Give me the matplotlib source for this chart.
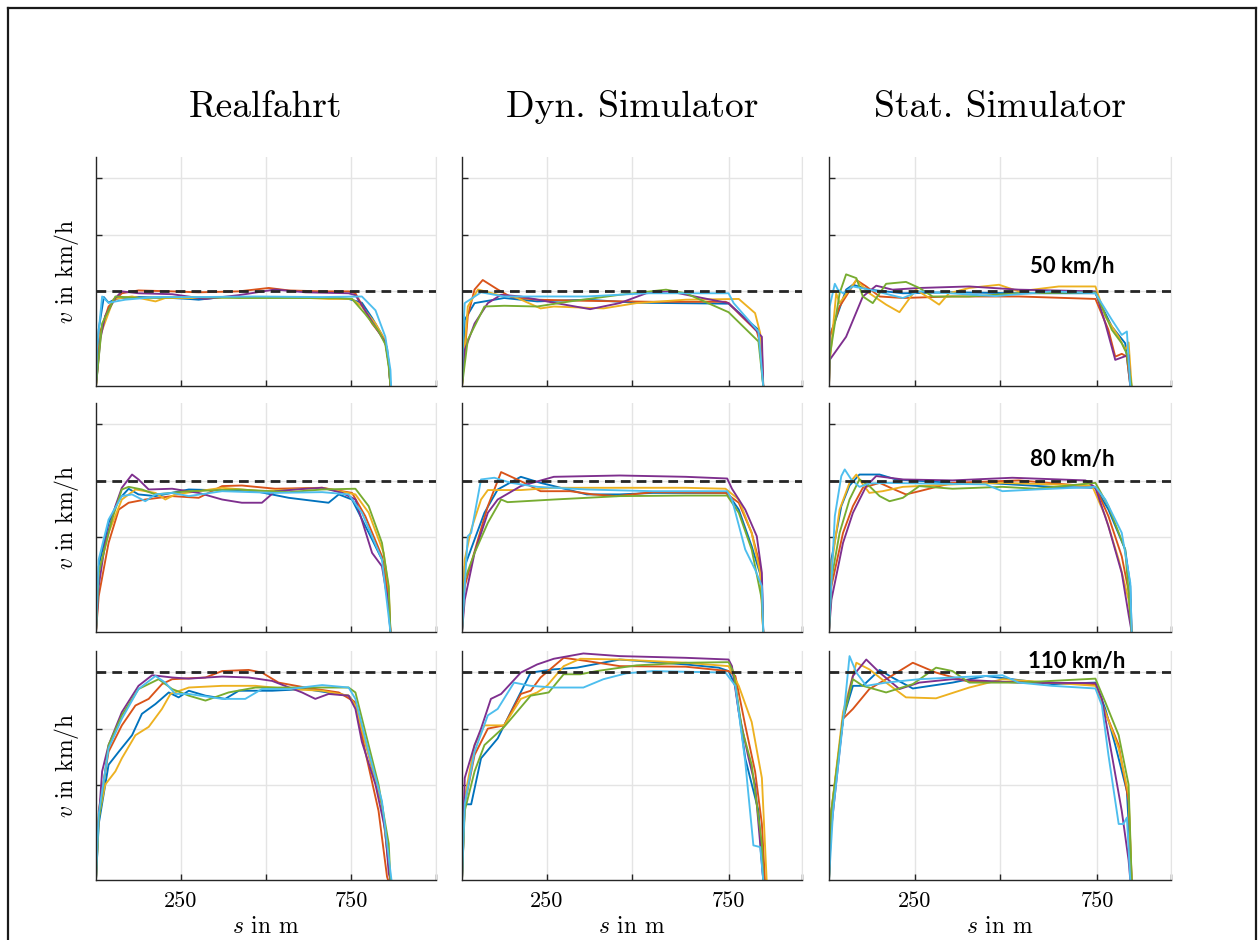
import matplotlib.pyplot as plt
from matplotlib.lines import Line2D

plt.rcParams['mathtext.fontset'] = 'cm'
plt.rcParams['axes.unicode_minus'] = False

# MATLAB default line colours, order used in every panel below
COLORS = ['#0072BD', '#D95319', '#EDB120', '#7E2F8E', '#77AC30', '#4DBEEE']

col_titles = ['Realfahrt', 'Dyn. Simulator', 'Stat. Simulator']
target_speeds = [50, 80, 110]
speed_labels = ['50 km/h', '80 km/h', '110 km/h']

# (s in m, v in km/h) points per run: blue, orange, yellow, purple, green, cyan
real_50 = [
    [(0, 0), (8, 30), (23, 47), (37, 44), (57, 46), (76, 46.5), (125, 47), (224, 46.5), (273, 46), (302, 45.6),
     (371, 47), (469, 47), (567, 47), (665, 46.5), (743, 46), (782, 44), (812, 36), (841, 27), (856, 20), (861, 12), (866, 0)],
    [(0, 0), (13, 29), (37, 42), (76, 49), (125, 50.5), (224, 50), (302, 49.5), (420, 50), (508, 51.8), (567, 50.5),
     (665, 50), (743, 50), (763, 49), (812, 33), (851, 24), (861, 12), (866, 0)],
    [(0, 0), (13, 27), (52, 46), (106, 47.3), (175, 44.7), (204, 46.5), (302, 46.5), (420, 47), (567, 47), (684, 46),
     (753, 46), (782, 42), (822, 33), (851, 24), (861, 12), (866, 0)],
    [(0, 0), (13, 25), (27, 37), (57, 46.5), (76, 50), (125, 49), (224, 48.5), (322, 46), (420, 48), (527, 51),
     (616, 49.5), (743, 49), (763, 48), (812, 34), (851, 23), (861, 12), (866, 0)],
    [(0, 0), (18, 33), (57, 47.3), (125, 46.5), (273, 47), (420, 46.5), (567, 46.5), (714, 46.5), (753, 46),
     (792, 38), (831, 29), (851, 22), (861, 10), (866, 0)],
    [(0, 0), (3, 20), (18, 47.3), (37, 44), (86, 45.6), (175, 47), (302, 47), (469, 47.3), (665, 47), (782, 47.3),
     (822, 40), (851, 26), (866, 8.5), (868, 0)],
]
dyn_50 = [
    [(0, 0), (8, 35), (37, 43.8), (124, 46.5), (221, 44.7), (367, 45.6), (513, 44), (784, 43.5), (872, 29.7), (886, 0)],
    [(0, 0), (17, 37), (37, 51), (61, 56), (105, 51), (144, 47), (221, 45.6), (367, 45), (561, 44.5), (775, 44.5),
     (784, 43.8), (823, 36.7), (867, 29), (882, 19), (886, 0)],
    [(0, 0), (17, 42), (47, 51), (105, 48.2), (153, 47.3), (231, 41), (270, 42), (416, 41), (513, 43.8), (658, 45.6),
     (814, 46), (862, 38.5), (877, 28), (886, 0)],
    [(0, 0), (8, 19), (37, 33), (76, 43.8), (115, 48.2), (173, 47.3), (270, 44), (377, 40.6), (464, 43.8), (542, 49),
     (610, 50), (707, 46.5), (784, 43.8), (852, 32), (882, 26), (886, 0)],
    [(0, 0), (17, 24.4), (66, 42), (124, 42.4), (221, 42), (318, 44.7), (464, 48.2), (600, 50.9), (658, 49),
     (784, 39), (872, 23.5), (886, 0)],
    [(0, 0), (4, 30), (8, 43.8), (56, 49.5), (124, 47.3), (367, 47.3), (542, 49), (784, 49), (799, 43.8),
     (872, 28.8), (886, 0)],
]
stat_50 = [
    [(0, 0), (2, 26), (50, 50.9), (70, 53.5), (118, 50.9), (216, 49), (361, 49.5), (555, 49), (779, 49),
     (827, 31.4), (866, 22.6), (881, 0)],
    [(0, 0), (2, 26), (31, 42), (80, 56), (109, 52.6), (148, 47.3), (216, 46.5), (361, 47.3), (555, 47.3), (779, 46),
     (817, 29.7), (837, 15.5), (856, 17), (871, 15.5), (881, 0)],
    [(0, 0), (2, 12), (21, 49), (31, 43.8), (80, 56), (118, 49), (167, 43), (206, 39), (254, 50.9), (293, 46.5),
     (322, 43), (351, 49), (410, 51.8), (497, 53.5), (555, 50), (672, 52.6), (779, 52.6), (808, 36.7), (847, 26),
     (866, 19), (876, 23), (885, 0)],
    [(0, 0), (2, 13.8), (50, 26), (99, 47.3), (138, 53), (186, 50.9), (264, 51.8), (410, 52.6), (555, 50.9), (779, 50),
     (808, 33), (837, 13.8), (876, 16.4), (881, 0)],
    [(0, 0), (2, 15.5), (31, 49), (50, 59), (80, 57), (99, 47.3), (128, 43.8), (167, 54), (225, 55), (264, 51.8),
     (303, 47.3), (410, 47.3), (555, 49), (779, 49.5), (827, 29.7), (856, 22.6), (871, 17), (885, 0)],
    [(0, 0), (2, 42), (17, 54), (26, 50.9), (41, 49), (70, 52.6), (118, 50.9), (216, 46.5), (264, 50), (487, 47.5),
     (652, 50), (779, 49), (827, 35), (856, 27), (871, 28.8), (881, 0)],
]

real_80 = [
    [(0, 0), (8, 34.7), (37, 57.7), (67, 70), (96, 75.7), (125, 72.7), (175, 71.8), (273, 75.3), (469, 74.4),
     (567, 70.9), (684, 68.3), (714, 72.7), (753, 70), (812, 48.9), (851, 34.7), (866, 0)],
    [(0, 0), (8, 19), (37, 47.1), (67, 64.7), (96, 68.3), (145, 70), (224, 71.8), (302, 70.9), (371, 77.1),
     (429, 77.4), (527, 75.7), (665, 76.2), (753, 73.5), (792, 61.2), (841, 40), (861, 19), (866, 0)],
    [(0, 0), (8, 31.2), (37, 52.4), (76, 70), (116, 75.3), (175, 73.5), (204, 70), (233, 72.7), (371, 76.2),
     (488, 74.4), (665, 76.2), (763, 72.7), (802, 63), (846, 41.8), (861, 22.4), (866, 0)],
    [(0, 0), (8, 24.2), (27, 47.1), (57, 66.5), (76, 76.2), (106, 83.2), (125, 80.6), (155, 75.3), (224, 75.7),
     (302, 73.5), (371, 70), (429, 68.3), (488, 68.3), (527, 74.4), (616, 75.7), (665, 76.2), (724, 73.5),
     (763, 70), (812, 41.8), (841, 34.7), (861, 13.6), (866, 0)],
    [(0, 0), (8, 31.2), (47, 59.4), (76, 75.3), (96, 76.7), (135, 75.3), (175, 72.7), (273, 74.4), (420, 75.3),
     (567, 73.9), (665, 75.3), (763, 75.7), (802, 66.5), (841, 47.1), (861, 24.2), (866, 0)],
    [(0, 0), (8, 38.3), (37, 59.4), (76, 71.8), (106, 72.7), (145, 69.1), (175, 72.7), (224, 73.5), (273, 71.8),
     (371, 74.4), (527, 73.5), (665, 73.9), (743, 72.7), (782, 63), (841, 38.3), (866, 0)],
]
dyn_80 = [
    [(0, 0), (8, 34.7), (37, 48.9), (66, 63), (105, 75.3), (173, 82), (231, 78.8), (270, 77.1), (367, 72.7),
     (464, 72.7), (561, 73.5), (780, 73.5), (814, 64.7), (852, 45.3), (882, 27.7), (886, 0)],
    [(0, 0), (8, 24.2), (47, 48.9), (76, 66.5), (115, 84.5), (173, 79.7), (231, 74.4), (318, 74.4), (386, 72.7),
     (454, 71.8), (561, 73.9), (775, 73.5), (814, 68.3), (852, 52.4), (877, 34.7), (886, 0)],
    [(0, 0), (8, 38.3), (27, 54.1), (56, 70), (76, 75), (173, 75), (270, 76.2), (464, 76.2), (658, 76.2),
     (775, 75.7), (814, 70), (852, 52.4), (877, 31.2), (886, 0)],
    [(0, 0), (8, 17), (37, 41.8), (76, 63), (105, 70), (173, 77.1), (270, 82), (464, 82.7), (658, 82), (780, 81.1),
     (794, 75.7), (833, 64.7), (867, 50.6), (882, 31.2), (886, 0)],
    [(0, 0), (8, 27.7), (37, 41.8), (76, 57.7), (115, 70), (134, 68.6), (270, 70), (464, 71.8), (658, 72.1),
     (780, 72.1), (814, 63), (852, 43.6), (882, 17), (886, 0)],
    [(0, 0), (8, 24.2), (17, 50.6), (27, 52.4), (56, 80.6), (95, 81.5), (144, 78.8), (221, 76.7), (367, 75.3),
     (561, 74.4), (780, 74.4), (794, 70), (833, 43.6), (862, 33), (882, 24.2), (886, 0)],
]
stat_80 = [
    [(0, 0), (7, 38.3), (36, 66.5), (60, 77.4), (89, 83.2), (148, 83.2), (196, 80.6), (361, 78.8), (458, 78.8),
     (652, 76.7), (779, 76.2), (817, 64.7), (866, 43.6), (881, 24.2), (885, 0)],
    [(0, 0), (7, 24.2), (41, 52.4), (70, 66.5), (99, 76.2), (148, 78.8), (186, 75.7), (225, 72.7), (264, 74.4),
     (361, 78.8), (555, 80.1), (779, 76.7), (817, 61.2), (856, 40), (881, 17), (885, 0)],
    [(0, 0), (7, 34.7), (31, 64.7), (60, 78.8), (80, 83.2), (99, 78), (118, 73.5), (157, 74.4), (216, 76.7),
     (361, 78), (507, 78.8), (652, 78), (769, 77.4), (808, 61.2), (847, 38.3), (876, 17), (885, 0)],
    [(0, 0), (7, 17), (41, 47.1), (70, 63), (109, 77.1), (138, 82.4), (216, 80.6), (361, 80.1), (536, 81.5),
     (750, 80.1), (779, 76.2), (817, 55.9), (856, 31.2), (876, 9.2), (885, 0)],
    [(0, 0), (7, 27.7), (31, 52.4), (60, 70), (89, 80.6), (118, 77.1), (148, 71.8), (177, 69.1), (216, 70.9),
     (264, 77.1), (361, 75.7), (507, 76.7), (604, 75.7), (779, 78.8), (817, 66.5), (866, 43.6), (885, 0)],
    [(0, 0), (2, 8.3), (17, 61.2), (36, 82.4), (46, 85.9), (65, 80.6), (89, 76.7), (118, 78.5), (167, 78.8),
     (264, 78.5), (458, 78), (507, 74.4), (604, 75.3), (779, 76.7), (808, 70), (856, 52.4), (881, 26), (885, 0)],
]

real_110 = [
    [(0, 0), (8, 29.6), (37, 60.9), (67, 67.8), (106, 76.5), (135, 87.8), (175, 93), (214, 99.1), (243, 96.5),
     (273, 100), (322, 97.4), (380, 95.7), (420, 100), (518, 100), (616, 100.9), (743, 97.4), (763, 93),
     (802, 66.1), (841, 40), (866, 0)],
    [(0, 0), (8, 36.5), (37, 67.8), (76, 81.7), (116, 92.2), (155, 95.7), (194, 103.5), (224, 106.1), (322, 107),
     (371, 110.4), (449, 111), (488, 109.6), (537, 104.3), (616, 101.7), (714, 99.1), (763, 93.9), (792, 67.8),
     (831, 36.5), (856, 1.7), (859, 0)],
    [(0, 0), (8, 33), (27, 50.4), (57, 57.4), (76, 64.3), (116, 76.5), (155, 80.9), (194, 90.4), (219, 98.3),
     (273, 101.7), (371, 102.6), (469, 102.6), (567, 100.9), (665, 100), (743, 97.4), (763, 92.2), (802, 66.1),
     (841, 40), (866, 0)],
    [(0, 0), (3, 19.1), (18, 57.4), (37, 71.3), (76, 88.7), (125, 102.6), (165, 108.2), (224, 107), (273, 106.4),
     (371, 107.5), (449, 107), (518, 105.2), (606, 99.1), (645, 95.7), (684, 98.3), (743, 97.4), (763, 90.4),
     (782, 73), (822, 50.4), (851, 26.1), (861, 3.5), (866, 0)],
    [(0, 0), (8, 31.3), (37, 71.3), (76, 87), (125, 100.9), (184, 106.1), (224, 100.9), (273, 97.4), (322, 94.8),
     (390, 99.1), (469, 101.7), (567, 101.7), (665, 101.7), (743, 101.7), (763, 99.1), (792, 78.3), (831, 50.4),
     (861, 19.1), (866, 0)],
    [(0, 0), (8, 34.8), (37, 69.6), (76, 85.2), (125, 100.9), (175, 107.8), (204, 104.3), (233, 98.3), (273, 98.3),
     (371, 95.7), (439, 95.7), (488, 100.9), (567, 100.9), (665, 103), (743, 101.7), (763, 95.7), (802, 67.8),
     (841, 41.7), (869, 0)],
]
dyn_110 = [
    [(0, 0), (8, 40), (27, 40), (56, 64.3), (105, 74.8), (153, 92.2), (202, 109.6), (270, 111.3), (338, 112.2),
     (464, 116.5), (658, 113.9), (755, 112.2), (784, 110.4), (804, 102.6), (833, 64.3), (872, 36.5), (886, 0)],
    [(0, 0), (8, 40), (37, 66.1), (76, 80), (124, 81.7), (173, 98.3), (202, 100), (231, 107), (299, 117.4),
     (367, 115.7), (464, 113), (658, 112.7), (784, 110.4), (804, 107.8), (833, 81.7), (862, 57.4), (882, 29.6),
     (891, 0)],
    [(0, 0), (8, 43.5), (37, 71.3), (66, 81.7), (124, 81.7), (173, 95.7), (221, 99.1), (250, 102.6), (299, 113),
     (348, 116.9), (464, 116.5), (658, 114.8), (784, 113), (814, 102.6), (852, 83.5), (882, 53.9), (896, 0)],
    [(0, 0), (8, 53.9), (37, 71.3), (56, 80), (85, 95.7), (115, 98.3), (173, 109.6), (221, 113.9), (270, 116.9),
     (357, 119.7), (464, 118.3), (658, 117.4), (784, 116.5), (794, 113), (814, 88.7), (843, 64.3), (862, 50.4),
     (877, 19.1), (886, 0)],
    [(0, 0), (8, 36.5), (37, 57.4), (66, 71.3), (124, 80.9), (202, 97.4), (255, 99.1), (299, 108.7), (348, 108.7),
     (396, 110.4), (513, 113.4), (658, 114.8), (784, 115.1), (799, 109.6), (823, 80), (852, 60.9), (882, 19.1),
     (886, 0)],
    [(0, 0), (8, 40), (37, 67.8), (76, 87), (105, 90.4), (153, 104.3), (202, 102.6), (270, 101.7), (357, 101.7),
     (416, 106.1), (483, 109.2), (561, 110.4), (775, 109.6), (804, 102.6), (833, 62.6), (857, 18.3), (877, 17.4),
     (886, 0)],
]
stat_110 = [
    [(0, 0), (7, 33), (41, 85.2), (70, 102.6), (99, 102.6), (148, 111), (186, 106.9), (245, 101.2), (361, 104.3),
     (458, 107.8), (652, 103.5), (779, 104.3), (808, 90.4), (837, 71.3), (871, 47), (885, 0)],
    [(0, 0), (7, 36.5), (41, 85.2), (70, 90.4), (118, 100.9), (167, 106.1), (245, 114.8), (313, 109.6),
     (410, 104.7), (555, 104.7), (779, 103.5), (808, 88.7), (847, 71.3), (876, 41.7), (885, 0)],
    [(0, 0), (7, 36.5), (41, 88.7), (80, 114.8), (118, 111.3), (167, 104.3), (225, 96.5), (313, 96), (410, 101.7),
     (507, 106.1), (779, 102.6), (808, 88.7), (847, 69.6), (876, 45.2), (885, 0)],
    [(0, 0), (2, 19.1), (41, 85.2), (70, 107.8), (109, 116.5), (148, 109.6), (206, 100.9), (264, 104.3),
     (361, 106.1), (555, 104.3), (779, 104), (798, 95.7), (827, 66.1), (856, 36.5), (876, 10.4), (881, 0)],
    [(0, 0), (7, 36.5), (41, 85.2), (70, 106.1), (99, 102.6), (167, 99.1), (245, 103.5), (313, 112.2),
     (361, 110.4), (410, 104.3), (555, 104.3), (779, 106.4), (808, 93.9), (847, 76.5), (876, 50.4), (885, 0)],
    [(0, 0), (12, 36.5), (41, 83.5), (60, 118.3), (80, 109.6), (109, 102.6), (167, 104.3), (264, 106.1),
     (361, 107), (507, 108.2), (555, 104.3), (652, 102.6), (779, 101.2), (798, 92.2), (817, 66.1), (847, 29.6),
     (861, 29.6), (871, 33), (881, 0)],
]

panels = [[real_50, dyn_50, stat_50],
          [real_80, dyn_80, stat_80],
          [real_110, dyn_110, stat_110]]

# axis ticks; the simulator columns put their "750" mark a bit further right
xticks_real = [250, 500, 750, 1000]
xticks_sim = [250, 500, 784, 1000]
xticklabels = ['250', '', '750', '']
yticks = [50, 80, 110]
xlims = [995, 985, 985]
label_pos = [(712, 63), (712, 91), (725, 115.7)]

W, H = 1258, 940
fig = plt.figure(figsize=(W / 100, H / 100), dpi=100)

col_left = [96, 462, 829]
col_w = [340, 340, 342]
row_top = [157, 403, 651]
row_h = 229

SERIF = 'cmr10'
DARK = '#262626'
GRID = '#e4e4e4'

for r in range(3):
    for c in range(3):
        ax = fig.add_axes([col_left[c] / W, 1 - (row_top[r] + row_h) / H, col_w[c] / W, row_h / H])
        for pts, color in zip(panels[r][c], COLORS):
            s, v = zip(*pts)
            ax.plot(s, v, color=color, lw=1.35, solid_joinstyle='round')
        ax.axhline(target_speeds[r], color=DARK, lw=2, linestyle=(0, (3.5, 2.2)), zorder=5)

        ax.set_xlim(0, xlims[c])
        ax.set_ylim(0, 121)
        ax.set_xticks(xticks_real if c == 0 else xticks_sim)
        ax.set_yticks(yticks)
        ax.set_yticklabels([])
        if r == 2:
            ax.set_xticklabels(xticklabels, fontfamily=SERIF, fontsize=16)
            ax.set_xlabel(r'$s$ in m', fontfamily=SERIF, fontsize=17)
            ax.xaxis.set_label_coords(0.5, -0.155)
        else:
            ax.set_xticklabels([])
        if c == 0:
            ax.set_ylabel(r'$v$ in km/h', fontfamily=SERIF, fontsize=17)
            ax.yaxis.set_label_coords(-0.044, 0.5)
        if r == 0:
            ax.set_title(col_titles[c], fontfamily=SERIF, fontsize=27, pad=29)
        if c == 2:
            ax.text(label_pos[r][0], label_pos[r][1], speed_labels[r], fontfamily='Lato',
                    fontweight='bold', fontsize=16, ha='center', va='center', zorder=6)

        ax.grid(True, color=GRID, lw=1)
        ax.set_axisbelow(True)
        ax.tick_params(direction='in', length=4, width=1, color=DARK, pad=8)
        ax.spines['top'].set_visible(False)
        ax.spines['right'].set_color(GRID)
        for side in ['left', 'bottom']:
            ax.spines[side].set_color(DARK)
            ax.spines[side].set_linewidth(1)

# outer frame of the original figure (bottom edge lies outside the crop)
for (x0, y0), (x1, y1) in [((8, 8), (8, 940)), ((8, 8), (1256, 8)), ((1256, 8), (1256, 940))]:
    fig.add_artist(Line2D([x0 / W, x1 / W], [1 - y0 / H, 1 - y1 / H], color='#1a1a1a', lw=1.6))

fig.savefig('out.png', dpi=100, facecolor='white')
